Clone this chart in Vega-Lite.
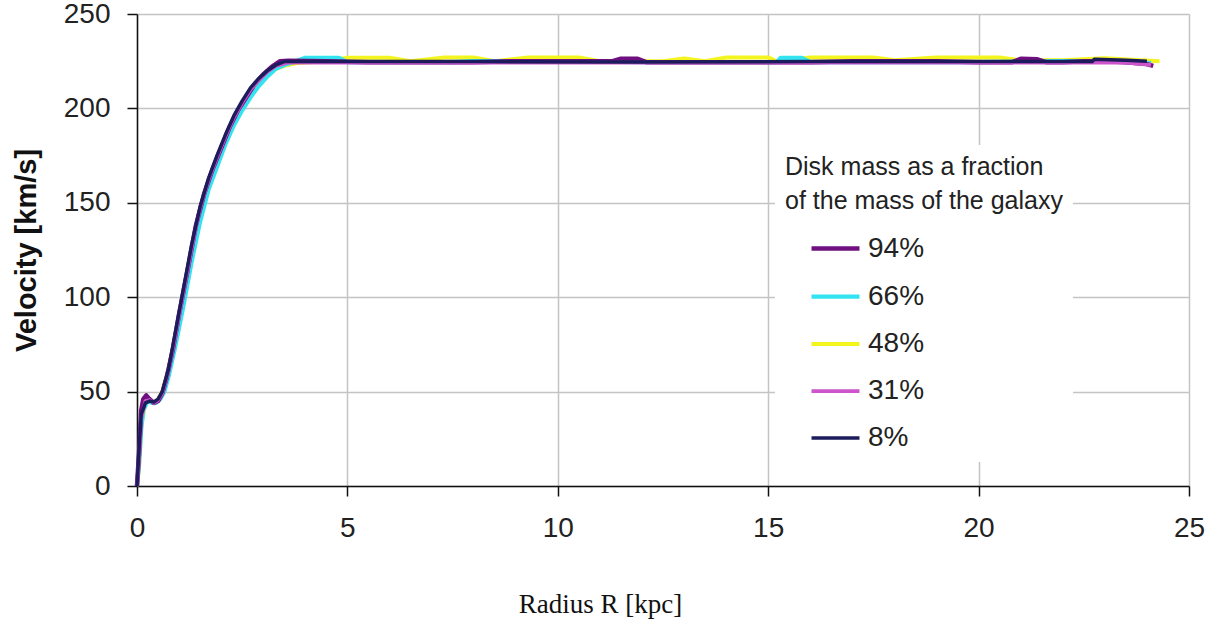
{
  "$schema": "https://vega.github.io/schema/vega-lite/v6.json",
  "width": 1052,
  "height": 472,
  "autosize": {"type": "none"},
  "padding": {"left": 137, "top": 14, "right": 33, "bottom": 141},
  "background": "white",
  "config": {
    "view": {"stroke": null},
    "font": "Liberation Sans",
    "axis": {
      "gridColor": "#c4c4c4",
      "gridWidth": 1.5,
      "domainColor": "#111111",
      "domainWidth": 1.5,
      "tickColor": "#111111",
      "tickWidth": 1.5,
      "tickSize": 10,
      "labelFont": "Liberation Sans",
      "labelFontSize": 28,
      "labelColor": "#222222",
      "labelPadding": 17,
      "labelFlush": false
    }
  },
  "datasets": {
    "curves": [
      {"s": "48%", "R": 0, "V": 0}, {"s": "48%", "R": 0.05, "V": 10}, {"s": "48%", "R": 0.1, "V": 32}, {"s": "48%", "R": 0.2, "V": 44}, {"s": "48%", "R": 0.3, "V": 45}, {"s": "48%", "R": 0.4, "V": 44}, {"s": "48%", "R": 0.5, "V": 46}, {"s": "48%", "R": 0.6, "V": 50}, {"s": "48%", "R": 0.75, "V": 62}, {"s": "48%", "R": 0.9, "V": 78}, {"s": "48%", "R": 1.1, "V": 100}, {"s": "48%", "R": 1.3, "V": 123}, {"s": "48%", "R": 1.5, "V": 145}, {"s": "48%", "R": 1.7, "V": 160}, {"s": "48%", "R": 1.9, "V": 172}, {"s": "48%", "R": 2.1, "V": 184}, {"s": "48%", "R": 2.3, "V": 193}, {"s": "48%", "R": 2.5, "V": 201}, {"s": "48%", "R": 2.7, "V": 208}, {"s": "48%", "R": 2.9, "V": 214}, {"s": "48%", "R": 3.1, "V": 218}, {"s": "48%", "R": 3.3, "V": 221}, {"s": "48%", "R": 3.5, "V": 222.5}, {"s": "48%", "R": 3.8, "V": 224}, {"s": "48%", "R": 4.5, "V": 225}, {"s": "48%", "R": 5, "V": 226.8}, {"s": "48%", "R": 6, "V": 226.8}, {"s": "48%", "R": 6.5, "V": 225}, {"s": "48%", "R": 7.3, "V": 227}, {"s": "48%", "R": 8, "V": 227}, {"s": "48%", "R": 8.5, "V": 225}, {"s": "48%", "R": 9.3, "V": 227}, {"s": "48%", "R": 10.5, "V": 227}, {"s": "48%", "R": 11, "V": 225}, {"s": "48%", "R": 12.5, "V": 225}, {"s": "48%", "R": 13, "V": 226.5}, {"s": "48%", "R": 13.5, "V": 225}, {"s": "48%", "R": 14, "V": 227}, {"s": "48%", "R": 15, "V": 227}, {"s": "48%", "R": 15.2, "V": 225}, {"s": "48%", "R": 16, "V": 227}, {"s": "48%", "R": 17.5, "V": 227}, {"s": "48%", "R": 18, "V": 225.5}, {"s": "48%", "R": 19, "V": 227}, {"s": "48%", "R": 20.5, "V": 227}, {"s": "48%", "R": 21, "V": 225.5}, {"s": "48%", "R": 22, "V": 225.5}, {"s": "48%", "R": 23, "V": 226.5}, {"s": "48%", "R": 24.3, "V": 225},

      {"s": "66%", "R": 0, "V": 0}, {"s": "66%", "R": 0.05, "V": 12}, {"s": "66%", "R": 0.1, "V": 30}, {"s": "66%", "R": 0.15, "V": 40}, {"s": "66%", "R": 0.25, "V": 45}, {"s": "66%", "R": 0.35, "V": 44}, {"s": "66%", "R": 0.45, "V": 44}, {"s": "66%", "R": 0.55, "V": 46}, {"s": "66%", "R": 0.65, "V": 50}, {"s": "66%", "R": 0.75, "V": 58}, {"s": "66%", "R": 0.9, "V": 73}, {"s": "66%", "R": 1.1, "V": 95}, {"s": "66%", "R": 1.3, "V": 119}, {"s": "66%", "R": 1.5, "V": 140}, {"s": "66%", "R": 1.7, "V": 157}, {"s": "66%", "R": 1.9, "V": 169}, {"s": "66%", "R": 2.1, "V": 181}, {"s": "66%", "R": 2.3, "V": 191}, {"s": "66%", "R": 2.5, "V": 199}, {"s": "66%", "R": 2.7, "V": 206}, {"s": "66%", "R": 2.9, "V": 212}, {"s": "66%", "R": 3.1, "V": 217}, {"s": "66%", "R": 3.3, "V": 221}, {"s": "66%", "R": 3.5, "V": 223}, {"s": "66%", "R": 3.7, "V": 224.5}, {"s": "66%", "R": 4.0, "V": 226.8}, {"s": "66%", "R": 4.8, "V": 226.8}, {"s": "66%", "R": 5.0, "V": 224.5}, {"s": "66%", "R": 7.5, "V": 224.5}, {"s": "66%", "R": 8, "V": 225}, {"s": "66%", "R": 10, "V": 225}, {"s": "66%", "R": 12, "V": 224.5}, {"s": "66%", "R": 15.2, "V": 224.5}, {"s": "66%", "R": 15.3, "V": 226.8}, {"s": "66%", "R": 15.8, "V": 226.8}, {"s": "66%", "R": 16, "V": 224.5}, {"s": "66%", "R": 20, "V": 224.5}, {"s": "66%", "R": 22, "V": 225}, {"s": "66%", "R": 23, "V": 225}, {"s": "66%", "R": 24.1, "V": 224},

      {"s": "94%", "R": 0, "V": 0}, {"s": "94%", "R": 0.05, "V": 18}, {"s": "94%", "R": 0.1, "V": 40}, {"s": "94%", "R": 0.15, "V": 46}, {"s": "94%", "R": 0.22, "V": 48}, {"s": "94%", "R": 0.3, "V": 46}, {"s": "94%", "R": 0.4, "V": 44}, {"s": "94%", "R": 0.5, "V": 45}, {"s": "94%", "R": 0.6, "V": 49}, {"s": "94%", "R": 0.7, "V": 57}, {"s": "94%", "R": 0.85, "V": 72}, {"s": "94%", "R": 1.0, "V": 91}, {"s": "94%", "R": 1.2, "V": 114}, {"s": "94%", "R": 1.4, "V": 138}, {"s": "94%", "R": 1.6, "V": 155}, {"s": "94%", "R": 1.8, "V": 168}, {"s": "94%", "R": 2.0, "V": 179}, {"s": "94%", "R": 2.2, "V": 190}, {"s": "94%", "R": 2.4, "V": 199}, {"s": "94%", "R": 2.6, "V": 206}, {"s": "94%", "R": 2.8, "V": 213}, {"s": "94%", "R": 3.0, "V": 218}, {"s": "94%", "R": 3.2, "V": 222}, {"s": "94%", "R": 3.4, "V": 225}, {"s": "94%", "R": 3.6, "V": 225.3}, {"s": "94%", "R": 4.5, "V": 225}, {"s": "94%", "R": 5.5, "V": 224.5}, {"s": "94%", "R": 8, "V": 224.5}, {"s": "94%", "R": 9, "V": 225}, {"s": "94%", "R": 11.3, "V": 225}, {"s": "94%", "R": 11.5, "V": 226.3}, {"s": "94%", "R": 11.9, "V": 226.3}, {"s": "94%", "R": 12.1, "V": 224.5}, {"s": "94%", "R": 16, "V": 224.5}, {"s": "94%", "R": 17, "V": 225}, {"s": "94%", "R": 19, "V": 225}, {"s": "94%", "R": 20, "V": 224.5}, {"s": "94%", "R": 20.8, "V": 224.5}, {"s": "94%", "R": 21, "V": 226.3}, {"s": "94%", "R": 21.4, "V": 226}, {"s": "94%", "R": 21.6, "V": 224.5}, {"s": "94%", "R": 22, "V": 224.5}, {"s": "94%", "R": 22.5, "V": 225}, {"s": "94%", "R": 23, "V": 225}, {"s": "94%", "R": 23.5, "V": 224.5}, {"s": "94%", "R": 24, "V": 223.5}, {"s": "94%", "R": 24.15, "V": 222.5},

      {"s": "31%", "R": 0, "V": 0}, {"s": "31%", "R": 0.05, "V": 15}, {"s": "31%", "R": 0.1, "V": 36}, {"s": "31%", "R": 0.2, "V": 45}, {"s": "31%", "R": 0.3, "V": 45.5}, {"s": "31%", "R": 0.4, "V": 44}, {"s": "31%", "R": 0.5, "V": 45.5}, {"s": "31%", "R": 0.6, "V": 49}, {"s": "31%", "R": 0.75, "V": 61}, {"s": "31%", "R": 0.9, "V": 78}, {"s": "31%", "R": 1.1, "V": 102}, {"s": "31%", "R": 1.3, "V": 126}, {"s": "31%", "R": 1.5, "V": 147}, {"s": "31%", "R": 1.7, "V": 162}, {"s": "31%", "R": 1.9, "V": 174}, {"s": "31%", "R": 2.1, "V": 185}, {"s": "31%", "R": 2.3, "V": 195}, {"s": "31%", "R": 2.5, "V": 203}, {"s": "31%", "R": 2.7, "V": 210}, {"s": "31%", "R": 2.9, "V": 215}, {"s": "31%", "R": 3.1, "V": 219.5}, {"s": "31%", "R": 3.3, "V": 222.5}, {"s": "31%", "R": 3.6, "V": 224.3}, {"s": "31%", "R": 8, "V": 224.3}, {"s": "31%", "R": 12, "V": 224.3}, {"s": "31%", "R": 16, "V": 224.3}, {"s": "31%", "R": 20, "V": 224.3}, {"s": "31%", "R": 23.5, "V": 224.3}, {"s": "31%", "R": 24.1, "V": 223},

      {"s": "8%", "R": 0, "V": 0}, {"s": "8%", "R": 0.05, "V": 20}, {"s": "8%", "R": 0.1, "V": 38}, {"s": "8%", "R": 0.2, "V": 44}, {"s": "8%", "R": 0.3, "V": 45}, {"s": "8%", "R": 0.4, "V": 44.5}, {"s": "8%", "R": 0.5, "V": 46}, {"s": "8%", "R": 0.6, "V": 50}, {"s": "8%", "R": 0.75, "V": 62}, {"s": "8%", "R": 0.9, "V": 80}, {"s": "8%", "R": 1.1, "V": 104}, {"s": "8%", "R": 1.3, "V": 128}, {"s": "8%", "R": 1.5, "V": 148}, {"s": "8%", "R": 1.7, "V": 163}, {"s": "8%", "R": 1.9, "V": 175}, {"s": "8%", "R": 2.1, "V": 186}, {"s": "8%", "R": 2.3, "V": 196}, {"s": "8%", "R": 2.5, "V": 204}, {"s": "8%", "R": 2.7, "V": 211}, {"s": "8%", "R": 2.9, "V": 216}, {"s": "8%", "R": 3.1, "V": 220}, {"s": "8%", "R": 3.3, "V": 223}, {"s": "8%", "R": 3.5, "V": 224.8}, {"s": "8%", "R": 8, "V": 224.8}, {"s": "8%", "R": 12, "V": 224.6}, {"s": "8%", "R": 16, "V": 224.8}, {"s": "8%", "R": 20, "V": 224.8}, {"s": "8%", "R": 22.7, "V": 224.8}, {"s": "8%", "R": 22.75, "V": 226}, {"s": "8%", "R": 23.5, "V": 225.5}, {"s": "8%", "R": 24, "V": 225}
    ]
  },
  "data": {"name": "curves"},
  "mark": {"type": "line", "interpolate": "linear", "strokeJoin": "round", "strokeCap": "butt"},
  "encoding": {
    "x": {
      "field": "R",
      "type": "quantitative",
      "scale": {"domain": [0, 25], "nice": false},
      "axis": {
        "values": [0, 5, 10, 15, 20, 25],
        "grid": true,
        "title": "Radius R [kpc]",
        "titleFont": "Liberation Serif",
        "titleFontSize": 27,
        "titleFontWeight": "normal",
        "titleColor": "#111111",
        "titleX": 463,
        "titleY": 118,
        "titleAlign": "center",
        "titleBaseline": "middle",
        "labelPadding": 18
      }
    },
    "y": {
      "field": "V",
      "type": "quantitative",
      "scale": {"domain": [0, 250], "nice": false},
      "axis": {
        "values": [0, 50, 100, 150, 200, 250],
        "grid": true,
        "title": "Velocity [km/s]",
        "titleFont": "Liberation Sans",
        "titleFontSize": 29,
        "titleFontWeight": "bold",
        "titleColor": "#111111",
        "titlePadding": 22,
        "labelPadding": 17
      }
    },
    "color": {
      "field": "s",
      "type": "nominal",
      "scale": {
        "domain": ["94%", "66%", "48%", "31%", "8%"],
        "range": ["#6f0f80", "#33e3f0", "#f4f41e", "#cc55cc", "#1c1c5c"]
      },
      "legend": {
        "title": ["Disk mass as a fraction", "of the mass of the galaxy"],
        "orient": "none",
        "legendX": 638,
        "legendY": 131,
        "fillColor": "white",
        "padding": 10,
        "titleFont": "Liberation Sans",
        "titleFontSize": 25,
        "titleFontWeight": "normal",
        "titleColor": "#222222",
        "titleLineHeight": 34,
        "titlePadding": 8,
        "titleLimit": 500,
        "symbolType": "stroke",
        "symbolSize": 2300,
        "symbolOffset": 24,
        "labelFont": "Liberation Sans",
        "labelFontSize": 28,
        "labelColor": "#222222",
        "labelOffset": 6,
        "rowPadding": 7,
        "encode": {
          "symbols": {
            "update": {
              "strokeWidth": {"value": {"expr": "datum.value === '94%' ? 5 : (datum.value === '31%' || datum.value === '8%') ? 1.5 : 4"}}
            }
          }
        }
      }
    },
    "strokeWidth": {
      "field": "s",
      "type": "nominal",
      "scale": {
        "domain": ["94%", "66%", "48%", "31%", "8%"],
        "range": [4.5, 3.5, 3.5, 1.5, 1.5]
      },
      "legend": null
    },
    "order": {"field": "R", "type": "quantitative"}
  }
}
